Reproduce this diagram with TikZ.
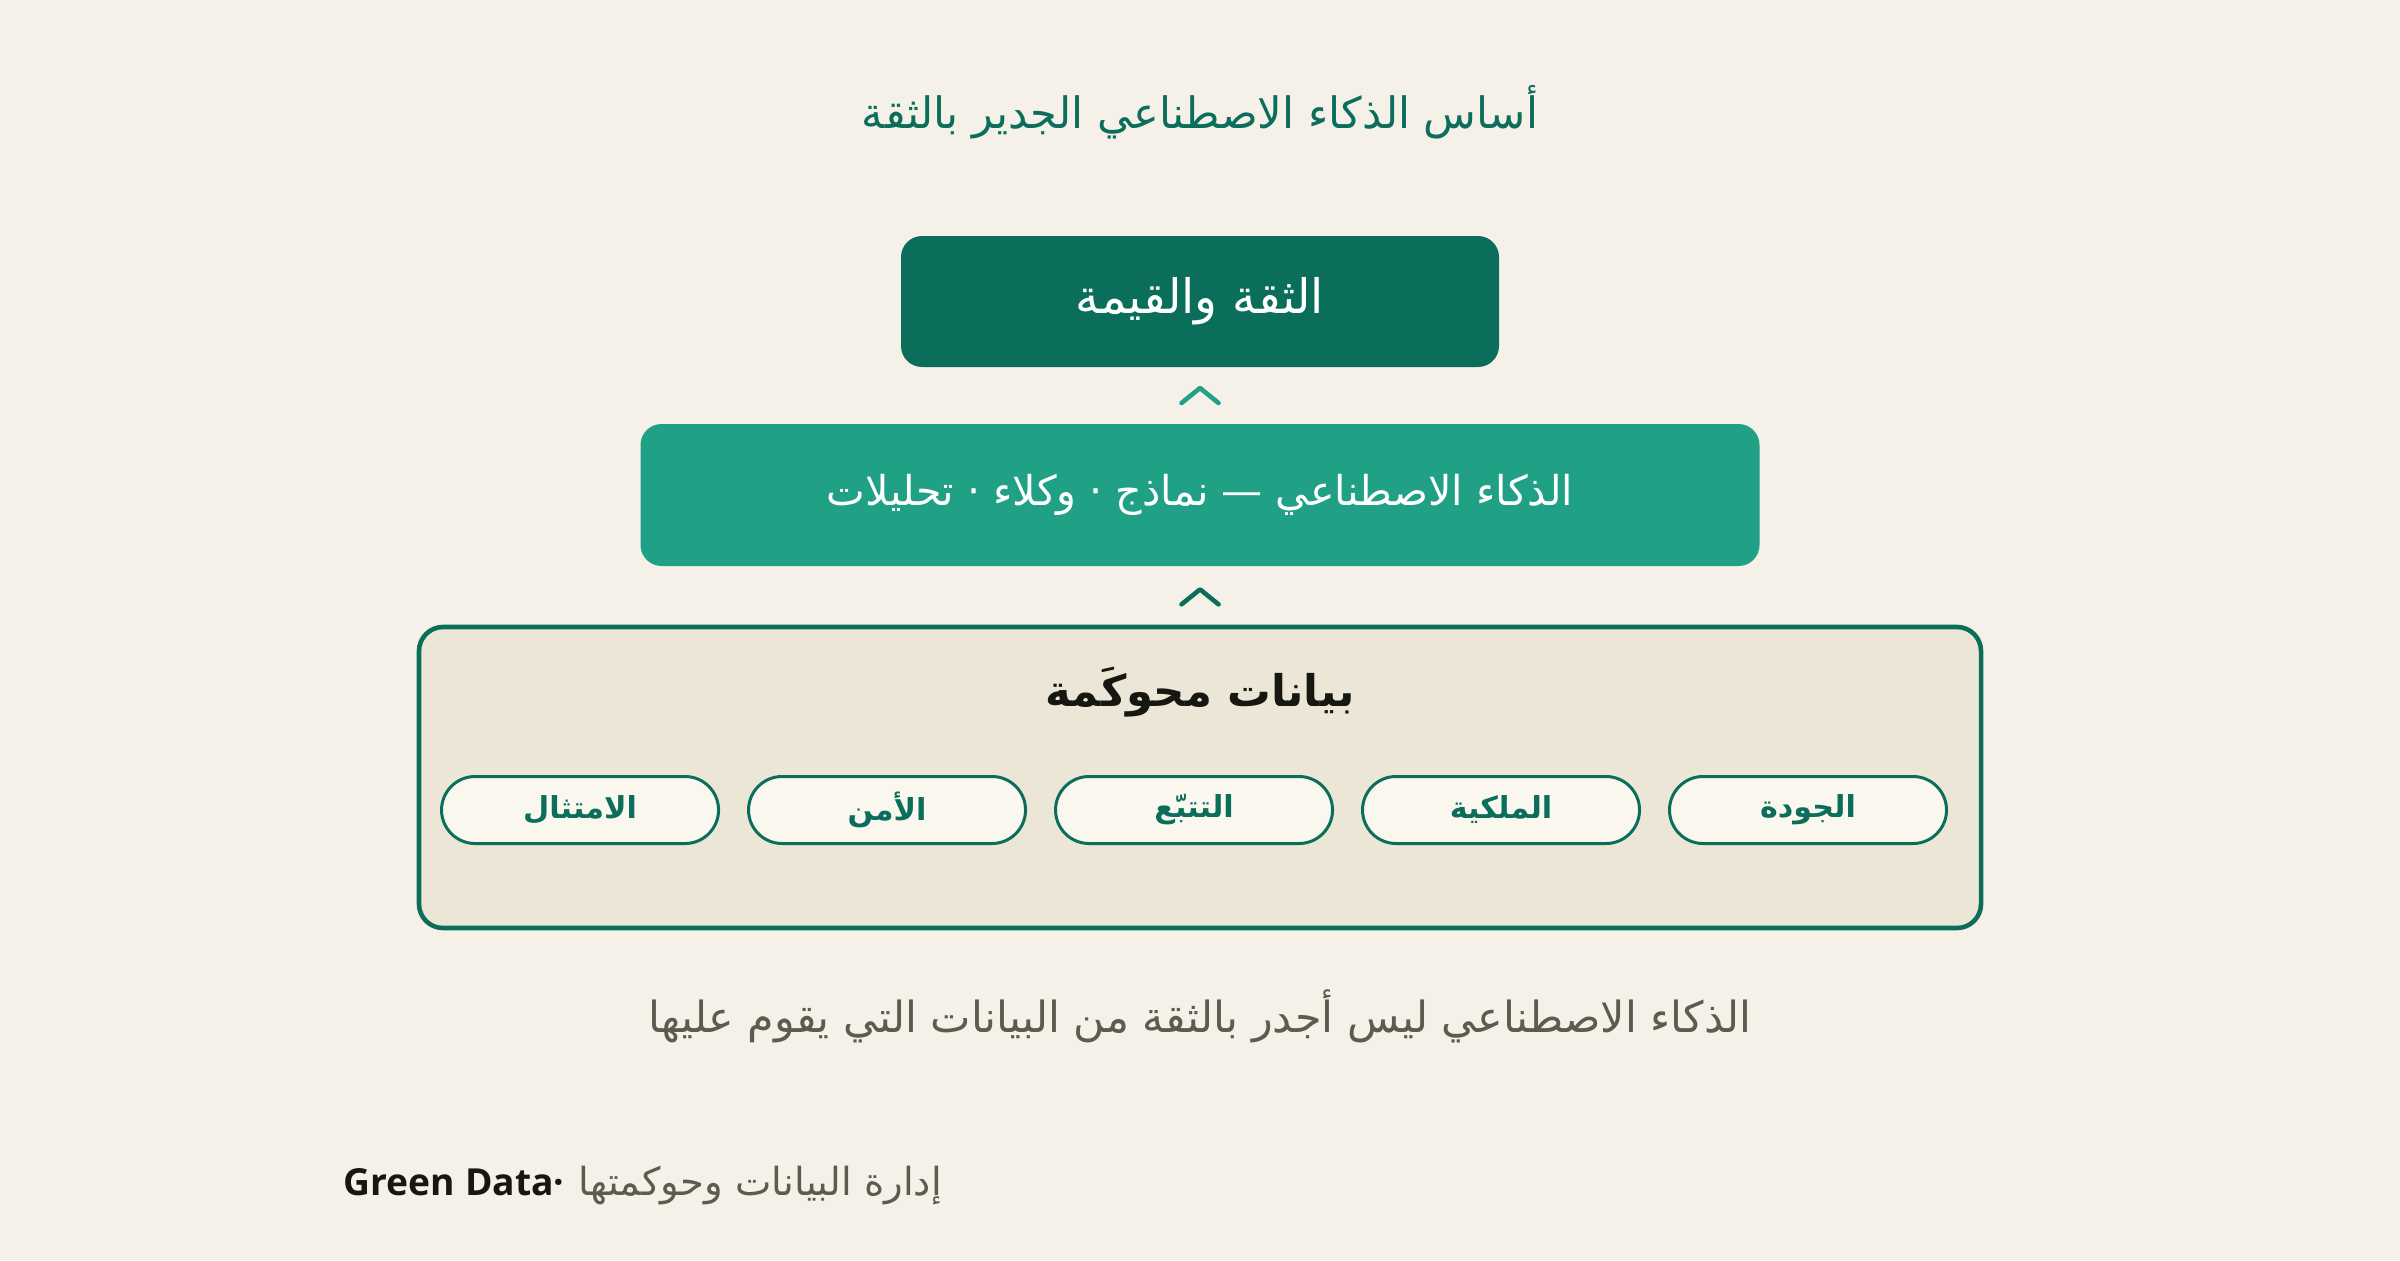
\documentclass[tikz,border=0pt]{standalone}
\usepackage{fontspec}
\setmainfont{DejaVu Sans}
\newfontfamily\arabicfont[Script=Arabic]{DejaVu Sans}
\newfontfamily\latinfont{Open Sans}
\TeXXeTstate=1
\usetikzlibrary{positioning}
\usetikzlibrary{calc}

\definecolor{paper}{HTML}{F5F1E9}
\definecolor{deepgreen}{HTML}{0B6E5B}
\definecolor{midgreen}{HTML}{20A085}
\definecolor{sand}{HTML}{ECE6D6}
\definecolor{pillfill}{HTML}{FAF7EF}
\definecolor{greytext}{HTML}{5E5A4E}
\definecolor{inktext}{HTML}{171712}

\tikzset{
  layerbox/.style={rounded corners=0.21cm, inner sep=0pt, text=white},
  pill/.style={draw=deepgreen, line width=0.85pt, fill=pillfill, rounded corners=0.335cm,
    minimum width=2.77cm, minimum height=0.67cm, inner sep=0pt, text=deepgreen,
    font=\arabicfont\bfseries\fontsize{8.6}{10}\selectfont},
  chevron/.style={line width=1.3pt, line cap=round, line join=round}
}

\begin{document}
\begin{tikzpicture}
    %% canvas
    \fill[paper] (0,0) rectangle (24,12.6);
    \useasboundingbox (0,0) rectangle (24,12.6);

    %% heading
    \node[text=deepgreen, font=\arabicfont\fontsize{12.3}{14}\selectfont] (heading) at (12,11.48)
        {\beginR أساس الذكاء الاصطناعي الجدير بالثقة\endR};

    %% layers
    \node[layerbox, fill=deepgreen, minimum width=5.98cm, minimum height=1.31cm,
        font=\arabicfont\fontsize{13.5}{15}\selectfont] (trust) at (12,9.585)
        {\raisebox{-0.6mm}{\beginR الثقة والقيمة\endR}};
    \node[layerbox, fill=midgreen, minimum width=11.19cm, minimum height=1.42cm,
        font=\arabicfont\fontsize{11.7}{14}\selectfont] (ai) at (12,7.65)
        {\raisebox{-0.5mm}{\beginR الذكاء الاصطناعي — نماذج · وكلاء · تحليلات\endR}};
    \draw[deepgreen, line width=1.3pt, fill=sand, rounded corners=0.24cm]
        (4.19,3.32) rectangle (19.81,6.33);
    \coordinate (basetop) at (12,6.33);

    %% chevrons between the layers
    \coordinate (upA) at ($(ai.north)!0.5!(trust.south)$);
    \coordinate (upB) at ($(basetop)!0.5!(ai.south)$);
    \draw[chevron, midgreen] ($(upA)+(-0.185,-0.075)$) -- ++(0.185,0.15) -- ++(0.185,-0.15);
    \draw[chevron, deepgreen] ($(upB)+(-0.185,-0.075)$) -- ++(0.185,0.15) -- ++(0.185,-0.15);

    %% governed data
    \node[text=inktext, font=\arabicfont\bfseries\fontsize{12.4}{15}\selectfont] (basetitle) at (12,5.68)
        {\beginR بيانات محوكَمة\endR};
    \node[pill] (quality) at (18.08,4.50) {\beginR الجودة\endR};
    \node[pill, left=0.27cm of quality] (ownership) {\beginR الملكية\endR};
    \node[pill, left=0.27cm of ownership] (lineage) {\beginR التتبّع\endR};
    \node[pill, left=0.27cm of lineage] (security) {\beginR الأمن\endR};
    \node[pill, left=0.27cm of security] (compliance) {\beginR الامتثال\endR};

    %% caption and footer
    \node[text=greytext, font=\arabicfont\fontsize{12.2}{14}\selectfont] (caption) at (12,2.44)
        {\beginR الذكاء الاصطناعي ليس أجدر بالثقة من البيانات التي يقوم عليها\endR};
    \node[anchor=west, inner sep=0pt] (footer) at (3.43,0.74)
        {\textcolor{inktext}{\latinfont\bfseries\fontsize{10.6}{13}\selectfont Green Data·}\hspace{0.4em}%
         \textcolor{greytext}{\arabicfont\fontsize{11}{13}\selectfont\beginR إدارة البيانات وحوكمتها\endR}};
\end{tikzpicture}
\end{document}
